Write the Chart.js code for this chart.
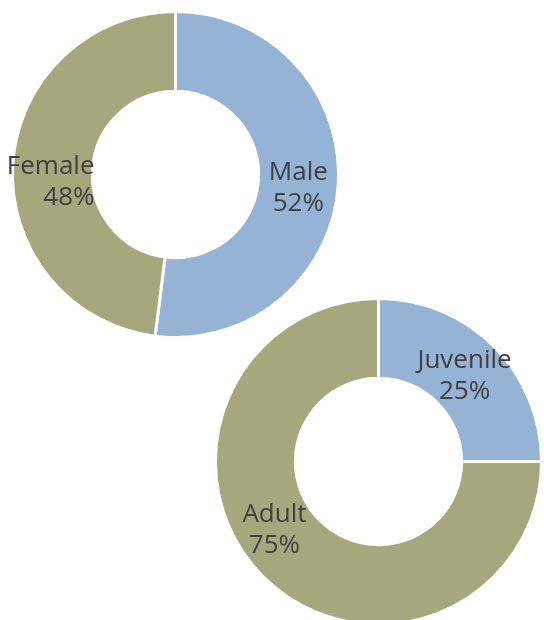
<!DOCTYPE html>
<html>
<head>
<meta charset="utf-8">
<script src="https://cdn.jsdelivr.net/npm/chart.js@4"></script>
<style>
  html, body { margin: 0; padding: 0; background: #ffffff; }
  #wrap { position: relative; width: 544px; height: 620px; overflow: hidden; }
  canvas { position: absolute; }
  #sexChart { left: 0px; top: 0px; }
  #ageChart { left: 204px; top: 287px; }
</style>
</head>
<body>
<div id="wrap">
  <canvas id="sexChart" width="351" height="349"></canvas>
  <canvas id="ageChart" width="349" height="349"></canvas>
</div>
<script>
// Dados
const sexLabels = ['Male', 'Female'];
const sexValues = [52, 48];
const ageLabels = ['Juvenile', 'Adult'];
const ageValues = [25, 75];

const blue = '#95b3d4';
const olive = '#a4a87c';

// Rótulos dentro das fatias (nome + percentual)
const sliceLabels = {
    id: 'sliceLabels',
    afterDatasetsDraw(chart, args, opts) {
        const ctx = chart.ctx;
        const data = chart.data.datasets[0].data;
        const total = data.reduce((a, b) => a + b, 0);
        const arcs = chart.getDatasetMeta(0).data;
        ctx.save();
        ctx.font = '26px "Open Sans"';
        ctx.fillStyle = '#404040';
        ctx.textBaseline = 'middle';
        arcs.forEach((arc, i) => {
            const p = arc.getProps(['x', 'y', 'startAngle', 'endAngle', 'innerRadius', 'outerRadius'], true);
            const mid = (p.startAngle + p.endAngle) / 2;
            const r = (p.innerRadius + p.outerRadius) / 2;
            const nudge = (opts.nudge && opts.nudge[i]) || [0, 0];
            const cx = p.x + Math.cos(mid) * r + nudge[0];
            const cy = p.y + Math.sin(mid) * r + nudge[1];
            const lines = [chart.data.labels[i], Math.round(data[i] / total * 100) + '%'];
            const align = (opts.align && opts.align[i]) || 'center';
            const w = Math.max(...lines.map(l => ctx.measureText(l).width));
            const lh = 31;
            lines.forEach((l, k) => {
                const y = cy + (k - 0.5) * lh;
                if (align === 'right') {
                    ctx.textAlign = 'right';
                    ctx.fillText(l, cx + w / 2, y);
                } else {
                    ctx.textAlign = 'center';
                    ctx.fillText(l, cx, y);
                }
            });
        });
        ctx.restore();
    }
};

function doughnut(id, labels, values, padding, labelOpts) {
    return new Chart(document.getElementById(id), {
        type: 'doughnut',
        data: {
            labels: labels,
            datasets: [{
                data: values,
                backgroundColor: [blue, olive],
                borderColor: '#ffffff',
                borderWidth: 3,
                hoverOffset: 0
            }]
        },
        options: {
            responsive: false,
            animation: false,
            events: [],
            cutout: '51%',
            layout: { padding: padding },
            plugins: {
                legend: { display: false },
                tooltip: { enabled: false },
                sliceLabels: labelOpts
            }
        },
        plugins: [sliceLabels]
    });
}

doughnut('sexChart', sexLabels, sexValues, { left: 11, right: 11, top: 10, bottom: 10 },
    { nudge: [[0, 6], [-2, 15]], align: ['center', 'right'] });
doughnut('ageChart', ageLabels, ageValues, 10,
    { nudge: [[-1, 2], [-17, -18]], align: ['center', 'center'] });
</script>
</body>
</html>
